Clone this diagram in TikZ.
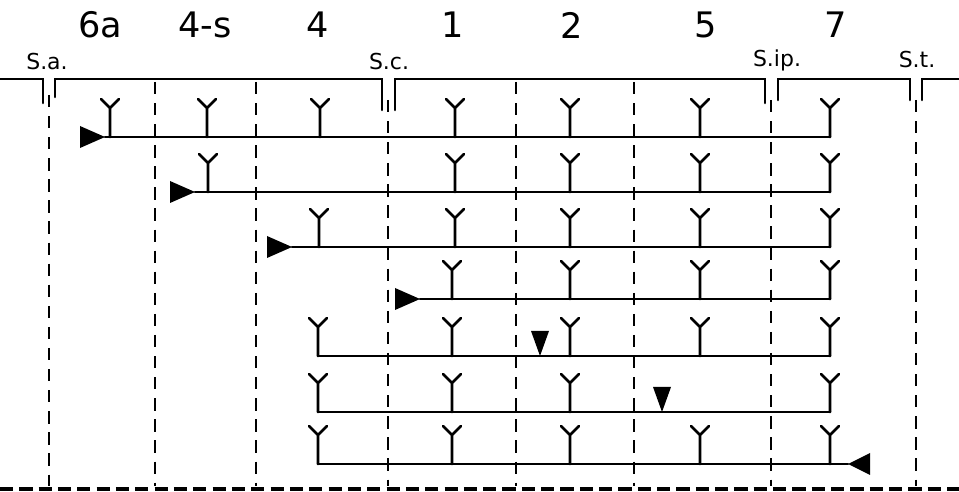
\documentclass[tikz,border=0pt]{standalone}
\usepackage{fontspec}
\setmainfont{DejaVu Sans}

\tikzset{
  axon/.style={line width=1.5pt, line cap=round},
  zone/.style={line width=1.4pt, dash pattern=on 7pt off 5pt},
  floor/.style={line width=2pt, dash pattern=on 7.5pt off 3.5pt},
  seg/.style={font=\fontsize{20}{22}\selectfont},
  sulc/.style={font=\fontsize{12.5}{14}\selectfont},
  recep/.pic={\draw[axon] (0,0) -- (0,-29) -- (-9,-38) (0,-29) -- (9,-38);},
  tipright/.pic={\fill (0,0) -- (-25,-11) -- (-25,11) -- cycle;},
  tipleft/.pic={\fill (0,0) -- (22,-11) -- (22,11) -- cycle;},
  tipdown/.pic={\fill (0,0) -- (-9,-25) -- (9,-25) -- cycle;}
}

\begin{document}
\begin{tikzpicture}[x=0.02cm, y=-0.02cm]
	\useasboundingbox (0,0) rectangle (959,492);
	
	% segment names
	\node[seg] (l6a) at (100,25) {6a};
	\node[seg] (l4s) at (205,25) {4-s};
	\node[seg] (l4)  at (318,25) {4};
	\node[seg] (l1)  at (453,25) {1};
	\node[seg] (l2)  at (572,25) {2};
	\node[seg] (l5)  at (706,25) {5};
	\node[seg] (l7)  at (836,25) {7};
	
	% sulci
	\node[sulc] (sa)  at (47,62)  {S.a.};
	\node[sulc] (sc)  at (389,62) {S.c.};
	\node[sulc] (sip) at (777,60) {S.ip.};
	\node[sulc] (st)  at (917,60) {S.t.};
	
	% cortex outline
	\draw[axon] (-5,79) -- (43,79) -- (43,103);
	\draw[axon] (55,97) -- (55,79) -- (382,79) -- (382,110);
	\draw[axon] (395,110) -- (395,79) -- (765,79) -- (765,103);
	\draw[axon] (778,100) -- (778,79) -- (910,79) -- (910,100);
	\draw[axon] (922,100) -- (922,79) -- (964,79);
	
	% borders
	\foreach \x/\t in {49/95,155/82,256/82,388/100,516/82,634/82,771/100,916/100}
		\draw[zone] (\x,\t) -- (\x,486);
	\draw[floor] (0,489) -- (959,489);
	
	% pathways
	\foreach \n/\y/\xs/\xe in {1/137/105/830, 2/192/195/830, 3/247/292/830,
		4/299/420/830, 5/356/318/830, 6/412/318/830, 7/464/318/848} {
		\coordinate (s\n) at (\xs,\y);
		\coordinate (e\n) at (\xe,\y);
		\draw[axon] (s\n) -- (e\n);
	}
	
	\foreach \x in {110,207,320,455,570,700,830} \pic at (\x,137) {recep};
	\foreach \x in {208,455,570,700,830} \pic at (\x,192) {recep};
	\foreach \x in {319,455,570,700,830} \pic at (\x,247) {recep};
	\foreach \x in {452,570,700,830} \pic at (\x,299) {recep};
	\foreach \x in {318,452,570,700,830} \pic at (\x,356) {recep};
	\foreach \x in {318,452,570,830} \pic at (\x,412) {recep};
	\foreach \x in {318,452,570,700,830} \pic at (\x,464) {recep};
	
	% origins
	\pic at (s1) {tipright};
	\pic at (s2) {tipright};
	\pic at (s3) {tipright};
	\pic at (s4) {tipright};
	\pic at (540,356) {tipdown};
	\pic at (662,412) {tipdown};
	\pic at (e7) {tipleft};
\end{tikzpicture}
\end{document}
